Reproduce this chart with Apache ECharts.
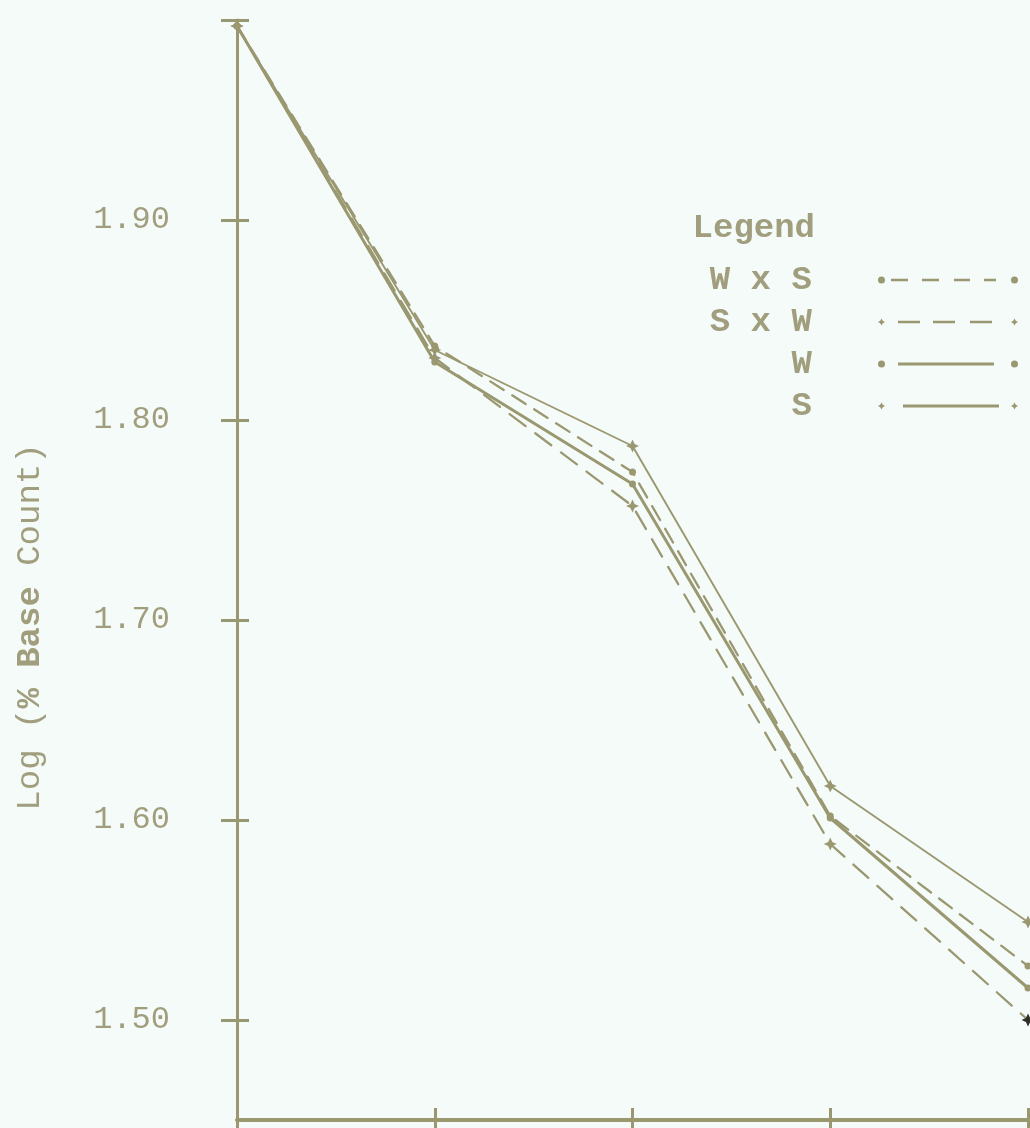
<!DOCTYPE html>
<html>
<head>
<meta charset="utf-8">
<title>Log (% Base Count)</title>
<script src="https://cdn.jsdelivr.net/npm/echarts@6/dist/echarts.min.js"></script>
<style>
  html, body { margin: 0; padding: 0; background: #f4fbf9; }
  #chart { width: 1030px; height: 1128px; }
</style>
</head>
<body>
<div id="chart"></div>
<script>
// Sampling points along the horizontal axis (labels are not printed)
const categories = ['0', '1', '2', '3', '4'];

// Tick values on the vertical axis
const yTickLabels = [1.50, 1.60, 1.70, 1.80, 1.90];
const yTickMarks = [1.50, 1.60, 1.70, 1.80, 1.90, 2.00];

// Log of percent base count for each cross / line
const seriesNames = ['W x S', 'S x W', 'W', 'S'];
const wxsValues = [1.997, 1.837, 1.774, 1.602, 1.527];
const sxwValues = [1.997, 1.831, 1.757, 1.588, 1.500];
const wValues = [1.997, 1.829, 1.768, 1.601, 1.516];
const sValues = [1.997, 1.835, 1.787, 1.617, 1.549];

const inkColor = '#9a9870';
const textColor = '#a09e7d';
const typeFont = "'Liberation Mono', 'DejaVu Sans Mono', monospace";

// four-point star used for the S-type lines
const starPath = 'path://M0,-10L3.2,-3.2L10,0L3.2,3.2L0,10L-3.2,3.2L-10,0L-3.2,-3.2Z';

// legend samples: end markers plus the line pattern, 140 x 7 box
const dotL = 'M0,3.5a3.5,3.5 0 1,0 7,0a3.5,3.5 0 1,0 -7,0z';
const dotR = 'M133,3.5a3.5,3.5 0 1,0 7,0a3.5,3.5 0 1,0 -7,0z';
const starL = 'M3.5,0L4.8,2.2L7,3.5L4.8,4.8L3.5,7L2.2,4.8L0,3.5L2.2,2.2Z';
const starR = 'M136.5,0L137.8,2.2L140,3.5L137.8,4.8L136.5,7L135.2,4.8L133,3.5L135.2,2.2Z';
const legendIcons = {
  'W x S': 'path://' + dotL + 'M13,2.3h17v2.4h-17z M44,2.3h17v2.4h-17z M76,2.3h16v2.4h-16z M106,2.3h12v2.4h-12z' + dotR,
  'S x W': 'path://' + starL + 'M20,2.3h22v2.4h-22z M55,2.3h22v2.4h-22z M92,2.3h22v2.4h-22z' + starR,
  'W': 'path://' + dotL + 'M20,2h96v3h-96z' + dotR,
  'S': 'path://' + starL + 'M25,2.1h96v2.8h-96z' + starR
};

const chart = echarts.init(document.getElementById('chart'), null, { renderer: 'canvas' });

function lineSeries(name, values, opts) {
  return {
    name: name,
    type: 'line',
    data: values.map(function (v, i) {
      if (opts.lastDark && i === values.length - 1) {
        return { value: v, itemStyle: { color: '#2e2e28' } };
      }
      return v;
    }),
    symbol: opts.symbol,
    symbolSize: opts.symbolSize,
    showSymbol: true,
    lineStyle: { color: inkColor, width: opts.width, type: opts.dash || 'solid', cap: 'round' },
    itemStyle: { color: inkColor },
    emphasis: { disabled: true },
    animation: false,
    z: 3
  };
}

const option = {
  backgroundColor: '#f4fbf9',
  animation: false,
  title: {
    text: 'Legend',
    right: 215,
    top: 211,
    padding: 0,
    textStyle: { color: textColor, fontFamily: typeFont, fontSize: 34, fontWeight: 'bold' }
  },
  legend: {
    orient: 'vertical',
    align: 'right',
    right: 12,
    top: 259,
    padding: 0,
    itemGap: 0,
    itemWidth: 140,
    itemHeight: 7,
    selectedMode: false,
    data: seriesNames.map(function (n) { return { name: n, icon: legendIcons[n] }; }),
    formatter: function (name) { return name.padStart(5, ' ') + '   '; },
    textStyle: {
      color: textColor, fontFamily: typeFont, fontSize: 34, fontWeight: 'bold',
      lineHeight: 30, padding: [0, 0, 12, 0]
    }
  },
  grid: { left: 237, right: 2, top: 20, bottom: 8, containLabel: false },
  xAxis: [{
    type: 'category',
    data: categories,
    boundaryGap: false,
    axisLine: { show: true, lineStyle: { color: inkColor, width: 4 } },
    axisTick: { show: true, interval: 0, length: 12, lineStyle: { color: inkColor, width: 3 } },
    axisLabel: { show: false },
    splitLine: { show: false }
  }, {
    type: 'category',
    data: categories,
    boundaryGap: false,
    position: 'bottom',
    axisLine: { show: false },
    axisTick: { show: true, inside: true, interval: 0, length: 12, lineStyle: { color: inkColor, width: 3 } },
    axisLabel: { show: false },
    splitLine: { show: false }
  }],
  yAxis: [{
    type: 'value',
    min: 1.45,
    max: 2.0,
    axisLine: { show: true, lineStyle: { color: inkColor, width: 3 } },
    axisTick: { show: true, length: 16, customValues: yTickMarks, lineStyle: { color: inkColor, width: 3 } },
    axisLabel: {
      show: true,
      customValues: yTickLabels,
      margin: 67,
      formatter: function (v) { return v.toFixed(2); },
      color: textColor,
      fontFamily: typeFont,
      fontSize: 32
    },
    splitLine: { show: false }
  }, {
    type: 'value',
    min: 1.45,
    max: 2.0,
    position: 'left',
    axisLine: { show: false },
    axisTick: { show: true, inside: true, length: 12, customValues: yTickMarks, lineStyle: { color: inkColor, width: 3 } },
    axisLabel: { show: false },
    splitLine: { show: false }
  }],
  graphic: [{
    type: 'text',
    x: 30,
    y: 627,
    rotation: Math.PI / 2,
    style: {
      text: '{n|Log (}{b|% Base}{n| Count)}',
      align: 'center',
      verticalAlign: 'middle',
      rich: {
        n: { fill: textColor, fontFamily: typeFont, fontSize: 34 },
        b: { fill: textColor, fontFamily: typeFont, fontSize: 34, fontWeight: 'bold' }
      }
    }
  }],
  series: [
    lineSeries('W x S', wxsValues, { symbol: 'circle', symbolSize: 7, width: 2.3, dash: [16, 10] }),
    lineSeries('S x W', sxwValues, { symbol: starPath, symbolSize: 13, width: 2.3, dash: [20, 12], lastDark: true }),
    lineSeries('W', wValues, { symbol: 'circle', symbolSize: 7, width: 3 }),
    lineSeries('S', sValues, { symbol: starPath, symbolSize: 13, width: 1.9 })
  ]
};

chart.setOption(option);
</script>
</body>
</html>
